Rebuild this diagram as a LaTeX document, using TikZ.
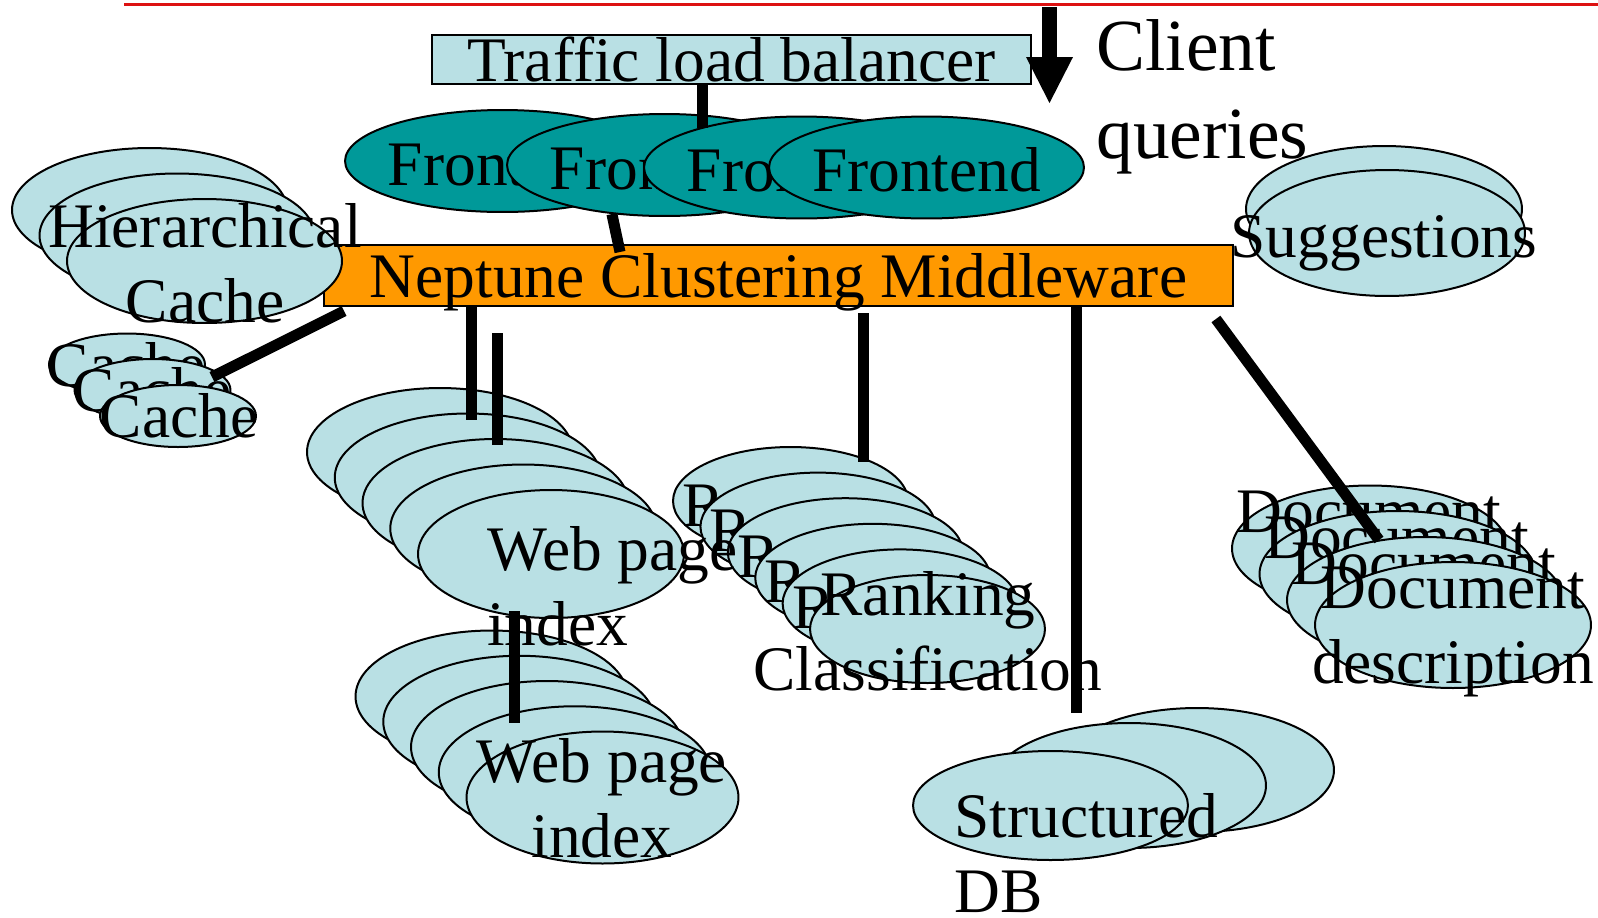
\documentclass[tikz,border=0pt]{standalone}
\usepackage{fontspec}
\setmainfont{Liberation Serif}
\usetikzlibrary{shapes,arrows.meta}

\definecolor{paleblue}{RGB}{185,224,228}
\definecolor{frontteal}{RGB}{0,153,153}
\definecolor{midorange}{RGB}{255,153,0}
\definecolor{rulered}{RGB}{221,17,17}

\begin{document}
\begin{tikzpicture}[x=0.02cm, y=-0.02cm, font=\fontsize{36.1}{43}\selectfont]
    \tikzstyle{box} = [rectangle, draw, line width=0.04cm, inner sep=0pt]
    \tikzstyle{disk} = [ellipse, draw, fill=paleblue, line width=0.04cm, inner sep=0pt]
    \tikzstyle{front} = [disk, fill=frontteal, minimum width=6.3cm, minimum height=2.04cm]
    \tikzstyle{hcache} = [disk, minimum width=5.5cm, minimum height=2.48cm]
    \tikzstyle{cache} = [disk, minimum width=3.12cm, minimum height=1.24cm]
    \tikzstyle{webidx} = [disk, minimum width=5.32cm, minimum height=2.56cm]
    \tikzstyle{webidxb} = [disk, minimum width=5.44cm, minimum height=2.64cm]
    \tikzstyle{rank} = [disk, minimum width=4.7cm, minimum height=2.16cm]
    \tikzstyle{doc} = [disk, minimum width=5.52cm, minimum height=2.52cm]
    \tikzstyle{txt} = [inner sep=0pt, anchor=base, text width=9cm, align=flush center]
    \tikzstyle{ltxt} = [inner sep=0pt, anchor=base west, text width=9cm, align=flush left]
    \tikzstyle{line} = [draw, line width=0.22cm]

    \useasboundingbox (0,0) rectangle (1598,917);
    \draw [rulered, line width=0.05cm] (124,4.7) -- (1598,4.7);

    \node [box, fill=paleblue, minimum width=11.98cm, minimum height=0.98cm] (lb) at (731.5,59.5) {Traffic load balancer};

    \node [front] (fe1) at (502.5,161) {};
    \node [txt] (fe1t) at (502.5,185) {Frontend};
    \node [front] (fe2) at (664.5,165) {};
    \node [txt] (fe2t) at (664.5,189) {Frontend};
    \node [front] (fe3) at (801.5,167.5) {};
    \node [txt] (fe3t) at (801.5,191.5) {Frontend};
    \node [front] (fe4) at (926.5,167.5) {};
    \node [txt] (fe4t) at (926.5,191.5) {Frontend};

    \node [box, fill=midorange, minimum width=18.18cm, minimum height=1.22cm, text depth=0pt] (mid) at (778.5,275.5) {Neptune Clustering Middleware};

    \node [hcache] (hc1) at (149.5,210) {};
    \node [hcache] (hc2) at (177,235.5) {};
    \node [hcache] (hc3) at (204.5,261) {};
    \node [txt] (hc3t) at (205,247) {Hierarchical\\Cache};

    \node [cache] (ca1) at (127,364.5) {};
    \node [txt] (ca1t) at (126,386) {Cache};
    \node [cache] (ca2) at (152.5,390) {};
    \node [txt] (ca2t) at (152,411.5) {Cache};
    \node [cache] (ca3) at (178,416) {};
    \node [txt] (ca3t) at (179,437.5) {Cache};

    \node [webidxb] (wq1) at (491.5,696.5) {};
    \node [webidxb] (wq2) at (519.25,721.75) {};
    \node [webidxb] (wq3) at (547,747) {};
    \node [webidxb] (wq4) at (574.75,772.25) {};
    \node [webidxb] (wq5) at (602.5,797.5) {};
    \node [txt] (wq5t) at (602,782) {Web page\\index};

    \node [rank] (rk1) at (790.5,501) {};
    \node [txt] (rk1t) at (790,526) {Ranking};
    \node [rank] (rk2) at (817.9,526.6) {};
    \node [txt] (rk2t) at (817.4,551.6) {Ranking};
    \node [rank] (rk3) at (845.3,552.2) {};
    \node [txt] (rk3t) at (844.8,577.2) {Ranking};
    \node [rank] (rk4) at (872.7,577.8) {};
    \node [txt] (rk4t) at (872.2,602.8) {Ranking};
    \node [rank] (rk5) at (900.1,603.4) {};
    \node [txt] (rk5t) at (899.6,628.4) {Ranking};
    \node [rank] (rk6) at (927.5,629) {};
    \node [txt] (rk6t) at (928,615) {Ranking\\Classification};

    \node [webidx] (wp1) at (440,452) {};
    \node [webidx] (wp2) at (467.75,477.5) {};
    \node [webidx] (wp3) at (495.5,503) {};
    \node [webidx] (wp4) at (523.25,528.5) {};
    \node [webidx] (wp5) at (551,554) {};
    \node [ltxt] (wp5t) at (487,570) {Web page\\index};

    \node [disk, minimum width=5.48cm, minimum height=2.48cm] (sd1) at (1197,770) {};
    \node [disk, minimum width=5.48cm, minimum height=2.5cm] (sd2) at (1129,785.5) {};
    \node [disk, minimum width=5.5cm, minimum height=2.18cm] (sd3) at (1050.5,805.5) {};
    \node [ltxt] (sd3t) at (954,837) {Structured\\DB};

    \node [doc] (sg1) at (1384,209) {};
    \node [doc] (sg2) at (1387,233) {};
    \node [txt] (sg2t) at (1384,257) {Suggestions};

    \node [doc] (dd1) at (1370,548.5) {};
    \node [txt] (dd1t) at (1369,532.5) {Document};
    \node [doc] (dd2) at (1397.5,574) {};
    \node [txt] (dd2t) at (1396.5,558) {Document};
    \node [doc] (dd3) at (1425,600) {};
    \node [txt] (dd3t) at (1424,584) {Document};
    \node [doc] (dd4) at (1453,625) {};
    \node [txt] (dd4t) at (1453,608) {Document\\description};

    \node [ltxt, font=\fontsize{41.8}{50.6}\selectfont] (client) at (1096,70) {Client\\queries};
    \coordinate (qtop) at (1049.5,7);
    \coordinate (qtip) at (1049.5,103);
    \path [draw, line width=0.3cm, -{Triangle[length=0.92cm, width=0.94cm, line width=0pt]}] (qtop) -- (qtip);

    \coordinate (fA) at (702,128);
    \coordinate (mA) at (620,252);
    \coordinate (cA) at (212,377);
    \coordinate (wA) at (471,420);
    \coordinate (wB) at (497.5,445);
    \coordinate (rA) at (863,462);
    \coordinate (sA) at (1076,713);
    \coordinate (dA) at (1379,540);
    \coordinate (vA) at (514,723);

    \path [line] (lb.south -| fA) -- (fA);
    \path [line] (fe2.223) -- (mA);
    \path [line] ([xshift=0.42cm, yshift=-0.08cm]mid.south west) -- (cA);
    \path [line] (mid.south -| wA) -- (wA);
    \path [line] (wB |- mid.south) ++(0,26) -- (wB);
    \path [line] (rA |- mid.south) ++(0,6) -- (rA);
    \path [line] (mid.south -| sA) -- (sA);
    \path [line] ([xshift=-0.36cm, yshift=-0.24cm]mid.south east) -- (dA);
    \path [line] (vA |- wp5.south) ++(0,-8) -- (vA);
\end{tikzpicture}
\end{document}
